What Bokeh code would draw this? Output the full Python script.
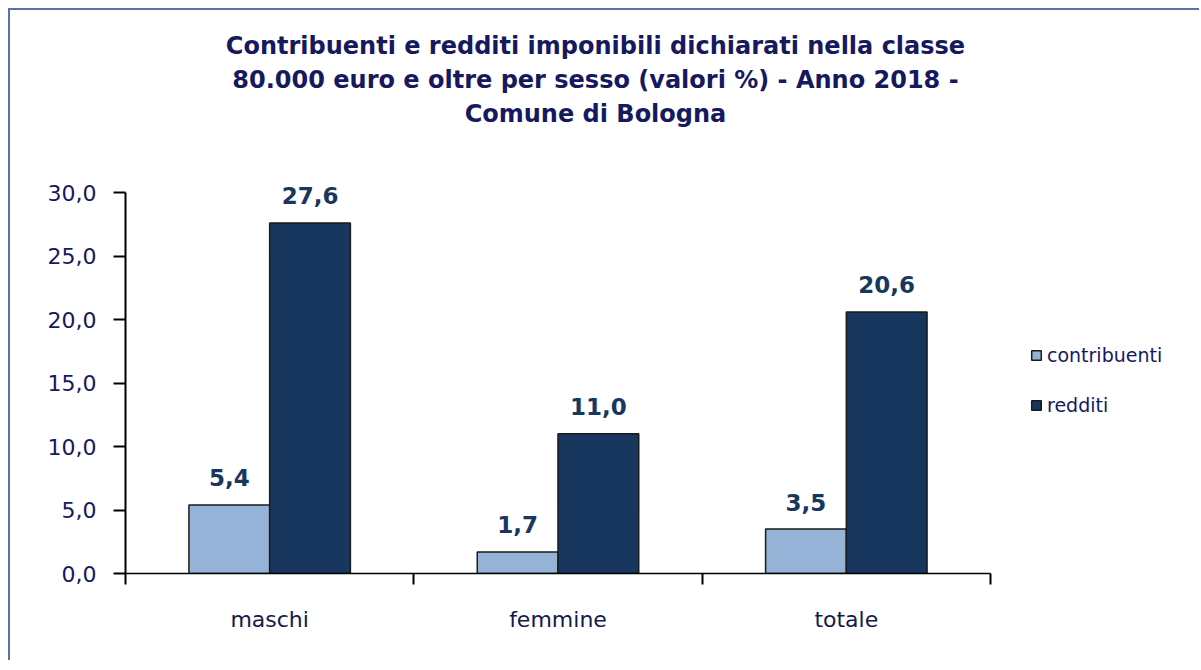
from bokeh.plotting import figure
from bokeh.models import (Range1d, FixedTicker, Legend, LegendItem, Label,
                          LabelSet, ColumnDataSource, LinearAxis)
from bokeh.transform import dodge
from bokeh.core.properties import value
from bokeh.embed import file_html
from bokeh.resources import INLINE

categories = ["maschi", "femmine", "totale"]
contribuenti = [5.4, 1.7, 3.5]
redditi = [27.6, 11.0, 20.6]
series_names = ["contribuenti", "redditi"]
y_ticks = [0, 5, 10, 15, 20, 25, 30]
y_tick_labels = ["0,0", "5,0", "10,0", "15,0", "20,0", "25,0", "30,0"]
title_lines = ["Contribuenti e redditi imponibili dichiarati nella classe",
               "80.000 euro e oltre per sesso (valori %) - Anno 2018 -",
               "Comune di Bologna"]

LIGHT = "#95B3D7"
DARK = "#17375E"
NAVY = "#16195E"
FONT = "DejaVu Sans"

n = len(categories)
y_max = y_ticks[-1]
PX_PER_Y = 12.7      # pixels per y unit
PX_PER_X = 288.33    # pixels per category

xs = [i + 0.5 for i in range(n)]
src = ColumnDataSource(dict(
    x=xs, cat=categories, c=contribuenti, r=redditi,
    c_txt=[f"{v:.1f}".replace(".", ",") for v in contribuenti],
    r_txt=[f"{v:.1f}".replace(".", ",") for v in redditi],
))

W_CANVAS, H_CANVAS = 1191, 652
LEFT, BOTTOM = 115, 89
frame_w = W_CANVAS - LEFT
frame_h = H_CANVAS - BOTTOM

p = figure(width=W_CANVAS, height=H_CANVAS, output_backend="svg", toolbar_location=None,
           x_range=Range1d(0, frame_w / PX_PER_X), y_range=Range1d(0, frame_h / PX_PER_Y),
           min_border_left=LEFT, min_border_right=0,
           min_border_top=0, min_border_bottom=BOTTOM)
p.styles = {"margin-left": "8px", "margin-top": "8px",
            "border-left": "2px solid #5673AA", "border-top": "2px solid #5673AA"}
p.outline_line_color = None
p.xgrid.visible = False
p.ygrid.visible = False
p.background_fill_color = "white"
p.border_fill_color = "white"

W = 0.28
r1 = p.vbar(x=dodge("x", -W / 2, range=p.x_range), top="c", width=W, source=src,
            fill_color=LIGHT, line_color="#1a1a1a", line_width=1.5)
r2 = p.vbar(x=dodge("x", W / 2, range=p.x_range), top="r", width=W, source=src,
            fill_color=DARK, line_color="#1a1a1a", line_width=1.5)

for col, ycol, off in (("c_txt", "c", -W / 2), ("r_txt", "r", W / 2)):
    p.add_layout(LabelSet(x=dodge("x", off, range=p.x_range), y=ycol, text=col, source=src,
                          text_align="center", text_baseline="middle", y_offset=27,
                          text_font=value(FONT), text_font_style="bold",
                          text_font_size="23px", text_color=DARK))

# y axis
ya = p.yaxis[0]
ya.bounds = (0, y_max)
ya.ticker = FixedTicker(ticks=y_ticks)
ya.major_label_overrides = {t: l for t, l in zip(y_ticks, y_tick_labels)}
ya.minor_tick_line_color = None
ya.axis_line_width = 2
ya.axis_line_color = "black"
ya.major_tick_line_width = 2
ya.major_tick_line_color = "black"
ya.major_tick_out = 12
ya.major_tick_in = 0
ya.major_label_standoff = 17
ya.major_label_text_font = FONT
ya.major_label_text_font_size = "22px"
ya.major_label_text_color = NAVY

# x axis (category boundaries)
xa = p.xaxis[0]
xa.bounds = (0, n)
xa.ticker = FixedTicker(ticks=list(range(n + 1)))
xa.minor_tick_line_color = None
xa.axis_line_width = 1.5
xa.axis_line_color = "black"
xa.major_tick_line_width = 2
xa.major_tick_line_color = "black"
xa.major_tick_out = 11
xa.major_tick_in = 0
xa.major_label_standoff = 0
xa.major_label_overrides = {t: "" for t in range(n + 1)}
xa.major_label_text_font_size = "1px"

# category labels axis
xa2 = LinearAxis(ticker=FixedTicker(ticks=xs),
                 major_label_overrides={x: c for x, c in zip(xs, categories)},
                 axis_line_color=None, major_tick_line_color=None,
                 minor_tick_line_color=None, major_label_standoff=16,
                 major_label_text_font=FONT, major_label_text_font_size="22px",
                 major_label_text_color="#141a4a")
p.add_layout(xa2, "below")

# title (inside the frame area above the plot)
for i, t in enumerate(title_lines):
    p.add_layout(Label(x=1.63, y=y_max + (192 - 45 - 34 * i) / PX_PER_Y,
                       text=t, text_align="center", text_baseline="middle",
                       text_font=FONT, text_font_style="bold", text_font_size="24px",
                       text_color=NAVY))

legend = Legend(items=[LegendItem(label=series_names[0], renderers=[r1]),
                       LegendItem(label=series_names[1], renderers=[r2])],
                location=(905, 157), orientation="vertical",
                glyph_width=12, glyph_height=12, label_height=20, spacing=28,
                label_standoff=5, padding=0, margin=0,
                border_line_color=None, background_fill_alpha=0,
                label_text_font=FONT, label_text_font_size="19px",
                label_text_color=NAVY)
p.add_layout(legend)

open("out.html", "w").write(file_html(p, INLINE))
